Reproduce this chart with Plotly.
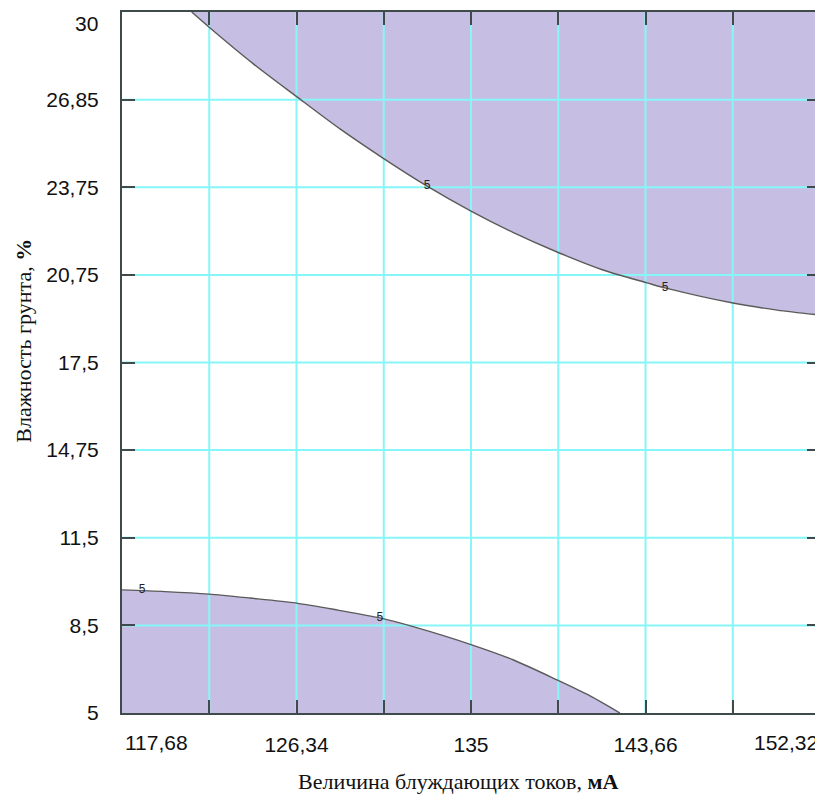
import plotly.graph_objects as go

# ---- data ----
x_range = [117.68, 152.32]
y_range = [5, 30]

x_tickvals = [117.68, 122.01, 126.34, 130.67, 135, 139.33, 143.66, 147.99, 152.32]
x_ticktext = ["", "", "126,34", "", "135", "", "143,66", "", ""]
x_end_labels = ["117,68", "152,32"]

y_tickvals = [5, 8.125, 11.25, 14.375, 17.5, 20.625, 23.75, 26.875, 30]
y_ticktext = ["5", "8,5", "11,5", "14,75", "17,5", "20,75", "23,75", "26,85", ""]
y_top_label = "30"

# upper isoline (level 5)
upper_x = [121.14, 122.05, 124.2, 126.35, 128.5, 130.63, 132.82, 135.0, 137.08,
           139.27, 141.55, 143.74, 144.63, 148.0, 150.19, 152.32]
upper_y = [30.0, 29.43, 28.15, 26.98, 25.83, 24.79, 23.79, 22.90, 22.14,
           21.44, 20.80, 20.34, 20.16, 19.62, 19.37, 19.19]

# lower isoline (level 5)
lower_x = [117.68, 119.81, 122.0, 124.03, 126.34, 128.4, 130.48, 132.17, 135.0,
           137.11, 139.27, 140.91, 142.39]
lower_y = [9.39, 9.33, 9.24, 9.10, 8.92, 8.67, 8.39, 8.07, 7.44,
           6.89, 6.18, 5.61, 5.0]

# contour labels
label_x = [132.82, 144.63, 118.68, 130.48]
label_y = [23.79, 20.16, 9.37, 8.39]
label_txt = ["5", "5", "5", "5"]

x_title = "Величина блуждающих токов, <b>мА</b>"
y_title = "Влажность грунта, <b>%</b>"

FILL = "#c6bfe3"
LINE = "#5a5a5a"
GRID = "#86f6f8"
AX = "#3f4a4a"
TICKFONT = dict(family="Liberation Sans", size=21, color="#111")
TITLEFONT = dict(family="Liberation Serif", size=22, color="#111")

fig = go.Figure()

# filled regions
fig.add_trace(go.Scatter(
    x=upper_x + [x_range[1], upper_x[0]],
    y=upper_y + [y_range[1], y_range[1]],
    fill="toself", fillcolor=FILL, mode="none", hoverinfo="skip", showlegend=False))
fig.add_trace(go.Scatter(
    x=[lower_x[0]] + lower_x,
    y=[y_range[0]] + lower_y,
    fill="toself", fillcolor=FILL, mode="none", hoverinfo="skip", showlegend=False))

# gridlines (drawn above the fill)
gx, gy = [], []
for v in x_tickvals[1:-1]:
    gx += [v, v, None]
    gy += [y_range[0], y_range[1], None]
for v in y_tickvals[1:-1]:
    gx += [x_range[0], x_range[1], None]
    gy += [v, v, None]
fig.add_trace(go.Scatter(x=gx, y=gy, mode="lines", line=dict(color=GRID, width=2),
                         hoverinfo="skip", showlegend=False))

# isolines
fig.add_trace(go.Scatter(x=upper_x, y=upper_y, mode="lines",
                         line=dict(color=LINE, width=1.4, shape="spline", smoothing=0.8),
                         showlegend=False))
fig.add_trace(go.Scatter(x=lower_x, y=lower_y, mode="lines",
                         line=dict(color=LINE, width=1.4, shape="spline", smoothing=0.8),
                         showlegend=False))

# contour labels
fig.add_trace(go.Scatter(x=label_x, y=label_y, mode="text", text=label_txt,
                         textfont=dict(family="Liberation Sans", size=12, color="#222"),
                         showlegend=False, hoverinfo="skip"))

axis_common = dict(
    showgrid=False, zeroline=False, automargin=False,
    ticks="inside", ticklen=13, tickwidth=2, tickcolor=AX,
    showline=True, linecolor=AX, linewidth=2, mirror="ticks",
    layer="above traces", tickfont=TICKFONT,
)

fig.update_xaxes(range=x_range, tickmode="array", tickvals=x_tickvals, ticktext=x_ticktext,
                 ticklabelstandoff=12, **axis_common)
fig.update_yaxes(range=y_range, tickmode="array", tickvals=y_tickvals, ticktext=y_ticktext,
                 ticklabelstandoff=17, **axis_common)

# end tick labels nudged inward, as in the reference
fig.add_annotation(x=x_tickvals[0], y=0, xref="x", yref="paper", yanchor="top", xanchor="left",
                   yshift=-16, xshift=1, text=x_end_labels[0], showarrow=False, font=TICKFONT)
fig.add_annotation(x=x_tickvals[-1], y=0, xref="x", yref="paper", yanchor="top", xanchor="right",
                   yshift=-16, xshift=0, text=x_end_labels[1], showarrow=False, font=TICKFONT)
fig.add_annotation(x=0, y=y_tickvals[-1], xref="paper", yref="y", yanchor="top", xanchor="right",
                   xshift=-22, yshift=2, text=y_top_label, showarrow=False, font=TICKFONT)

# axis titles
fig.add_annotation(x=0.481, y=0, xref="paper", yref="paper", xanchor="center", yanchor="top",
                   yshift=-54, text=x_title, showarrow=False, font=TITLEFONT)
fig.add_annotation(x=0, y=0.531, xref="paper", yref="paper", xanchor="center", yanchor="middle",
                   xshift=-98, textangle=-90, text=y_title, showarrow=False, font=TITLEFONT)

# page body has an 8px margin: size the figure so the plot lands where the reference's is
fig.update_layout(
    width=815, height=788,
    margin=dict(l=114, r=3, t=4, b=83, autoexpand=False),
    plot_bgcolor="white", paper_bgcolor="white",
    showlegend=False,
)

fig.write_html("out.html")
